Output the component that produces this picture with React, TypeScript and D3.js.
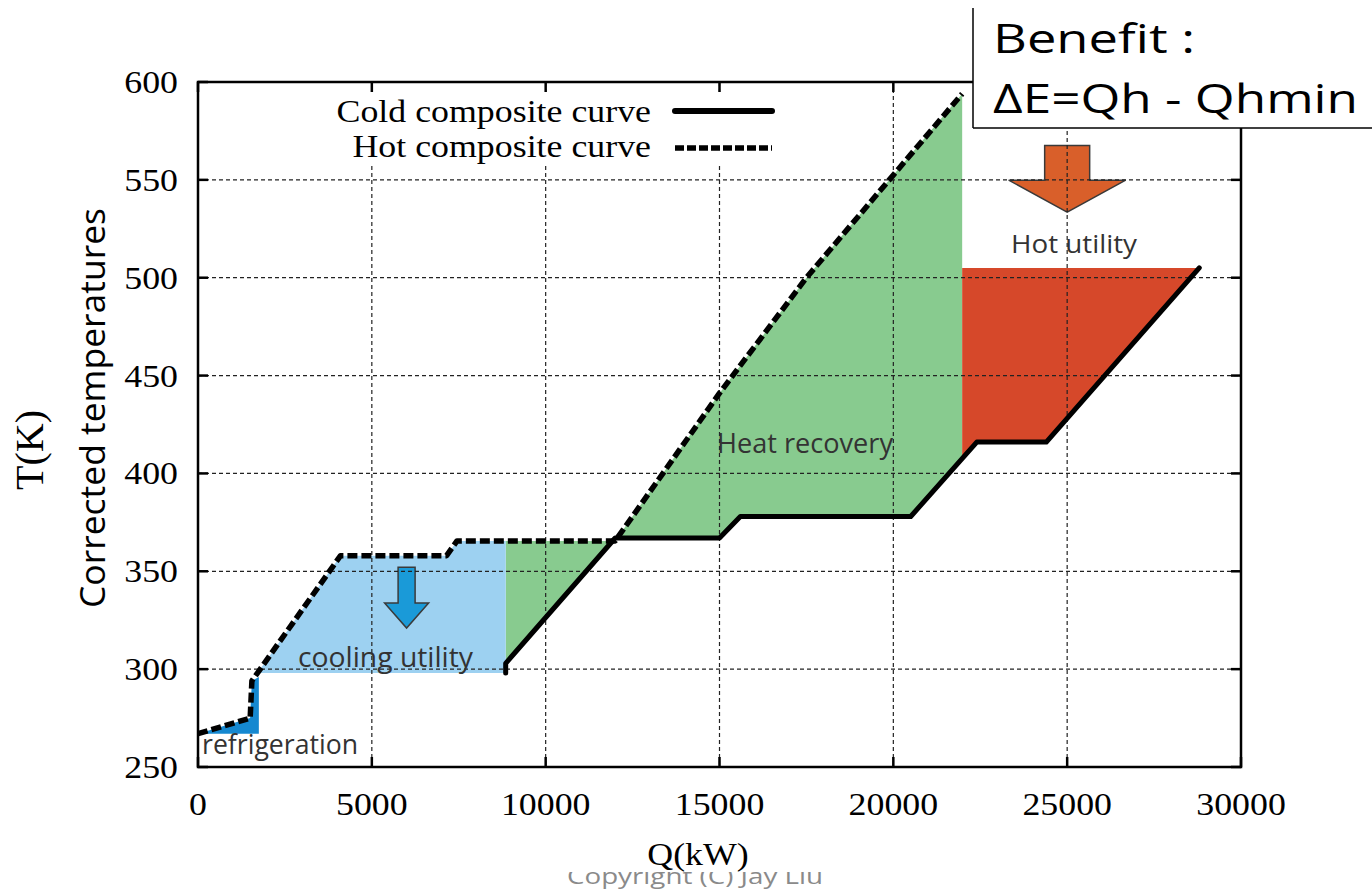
import React from "react";
import * as d3 from "d3";

// Axis ticks
const xTickValues = [0, 5000, 10000, 15000, 20000, 25000, 30000];
const yTickValues = [250, 300, 350, 400, 450, 500, 550, 600];

// Hot composite curve (Q in kW, T in K)
const hotQ = [0, 1500, 1550, 4100, 7150, 7450, 12000, 15000, 17500, 21980];
const hotT = [267, 275, 294, 358, 358, 365.5, 365.5, 441, 500, 594];

// Cold composite curve
const coldQ = [8850, 8850, 12000, 15000, 15600, 20500, 22400, 24400, 28800];
const coldT = [298, 303, 367, 367, 378, 378, 416, 416, 505];

// Shaded regions
const refrigerationQ = [0, 1500, 1550, 1750, 1750];
const refrigerationT = [267, 275, 294, 296, 267];

const coolingQ = [1710, 4100, 7150, 7450, 8850, 8850];
const coolingT = [298, 358, 358, 365.5, 365.5, 298];

const recoveryQ = [8850, 12000, 15000, 17500, 21980, 21980, 20500, 15600, 15000, 12000, 8850];
const recoveryT = [365.5, 365.5, 441, 500, 594, 407.6, 378, 378, 367, 367, 303];

const hotUtilityQ = [21980, 28800, 24400, 22400, 21980];
const hotUtilityT = [505, 505, 416, 416, 407.6];

// Utility arrows: position Q, top T, tip T
const coolArrow = { q: 6000, top: 352, tip: 321 };
const hotArrow = { q: 25000, top: 567.5, tip: 533.5 };

const W = 1372;
const H = 890;
const PL = 198, PR = 1241, PT = 82, PB = 767;

const SERIF = "'Liberation Serif', 'Times New Roman', serif";
const SANS = "'Open Sans', 'Noto Sans', sans-serif";
const SX = 1.12;

const x = d3.scaleLinear().domain([0, 30000]).range([PL, PR]);
const y = d3.scaleLinear().domain([250, 600]).range([PB, PT]);

const zip = (qs: number[], ts: number[]) => qs.map((q, i) => [q, ts[i]] as [number, number]);
const line = d3.line<[number, number]>().x((d) => x(d[0])).y((d) => y(d[1]));
const poly = (qs: number[], ts: number[]) => line(zip(qs, ts)) + "Z";

function STxt(props: {
  x: number; y: number; size: number; family: string; anchor?: string;
  fill?: string; sx?: number; rotate?: number; len?: number; children: React.ReactNode;
}) {
  const { x: tx, y: ty, size, family, anchor = "start", fill = "#000", sx = 1, rotate, len, children } = props;
  return (
    <text
      transform={`translate(${tx},${ty}) scale(${sx},1)${rotate ? ` rotate(${rotate})` : ""}`}
      fontSize={size}
      fontFamily={family}
      textAnchor={anchor}
      fill={fill}
      textLength={len}
      lengthAdjust={len ? "spacingAndGlyphs" : undefined}
    >
      {children}
    </text>
  );
}

function arrowPath(cx: number, top: number, tip: number, shaftHalf: number, headHalf: number, headLen: number) {
  const wing = tip - headLen;
  return `M${cx - shaftHalf},${top} L${cx + shaftHalf},${top} L${cx + shaftHalf},${wing} L${cx + headHalf},${wing} L${cx},${tip} L${cx - headHalf},${wing} L${cx - shaftHalf},${wing} Z`;
}

export default function App() {
  const gridX = xTickValues.slice(1, -1);
  const gridY = yTickValues.slice(1, -1);
  const tickLen = 10;

  return (
    <svg width={W} height={H} style={{ position: "absolute", left: 0, top: 0, background: "#fff" }}>
      <rect x={0} y={0} width={W} height={H} fill="#fff" />

      {/* filled regions */}
      <path d={poly(recoveryQ, recoveryT)} fill="#88cb8f" />
      <path d={poly(coolingQ, coolingT)} fill="#9dd1f1" />
      <path d={poly(refrigerationQ, refrigerationT)} fill="#1588d0" />
      <path d={poly(hotUtilityQ, hotUtilityT)} fill="#d6482a" />

      {/* arrows */}
      <path
        d={arrowPath(x(coolArrow.q), y(coolArrow.top), y(coolArrow.tip), 8.5, 22, 25)}
        fill="#1a9ad8" stroke="#3a3a3a" strokeWidth={1.5} strokeLinejoin="miter"
      />
      <path
        d={arrowPath(x(hotArrow.q), y(hotArrow.top), y(hotArrow.tip), 22.5, 58.5, 32)}
        fill="#d95f2a" stroke="#3a3a3a" strokeWidth={1.5}
      />

      {/* grid */}
      <g stroke="#222" strokeWidth={1.2} strokeDasharray="4,3">
        {gridX.map((v) => (
          <line key={"gx" + v} x1={x(v)} x2={x(v)} y1={PT} y2={PB} />
        ))}
        {gridY.map((v) => (
          <line key={"gy" + v} x1={PL} x2={PR} y1={y(v)} y2={y(v)} />
        ))}
      </g>

      {/* legend background */}
      <rect x={330} y={92} width={455} height={74} fill="#fff" />

      {/* frame and ticks */}
      <g stroke="#000" strokeWidth={2.5}>
        <rect x={PL} y={PT} width={PR - PL} height={PB - PT} fill="none" />
        {xTickValues.map((v) => (
          <g key={"tx" + v}>
            <line x1={x(v)} x2={x(v)} y1={PB} y2={PB - tickLen} />
            <line x1={x(v)} x2={x(v)} y1={PT} y2={PT + tickLen} />
          </g>
        ))}
        {yTickValues.map((v) => (
          <g key={"ty" + v}>
            <line x1={PL} x2={PL + tickLen} y1={y(v)} y2={y(v)} />
            <line x1={PR} x2={PR - tickLen} y1={y(v)} y2={y(v)} />
          </g>
        ))}
      </g>

      {/* composite curves */}
      <path d={line(zip(coldQ, coldT)) || ""} fill="none" stroke="#000" strokeWidth={5} strokeLinecap="round" strokeLinejoin="round" />
      <path d={line(zip(hotQ, hotT)) || ""} fill="none" stroke="#000" strokeWidth={5.5} strokeDasharray="10,4" strokeLinejoin="round" />

      {/* legend */}
      <STxt x={651} y={122} size={32} family={SERIF} anchor="end" sx={SX}>Cold composite curve</STxt>
      <STxt x={651} y={157} size={32} family={SERIF} anchor="end" sx={SX}>Hot composite curve</STxt>
      <line x1={675} x2={772} y1={111} y2={111} stroke="#000" strokeWidth={6} strokeLinecap="round" />
      <line x1={675} x2={772} y1={148} y2={148} stroke="#000" strokeWidth={5.5} strokeDasharray="9,3" />

      {/* region labels */}
      <STxt x={717} y={453} size={27} family={SANS} fill="#333" len={176}>Heat recovery</STxt>
      <STxt x={298} y={667} size={27} family={SANS} fill="#333" len={175}>cooling utility</STxt>
      <STxt x={202} y={754} size={27} family={SANS} fill="#333" len={156}>refrigeration</STxt>
      <STxt x={1011} y={253} size={26} family={SANS} fill="#333" len={126}>Hot utility</STxt>

      {/* tick labels */}
      {xTickValues.map((v) => (
        <STxt key={"lx" + v} x={x(v)} y={815} size={32} family={SERIF} anchor="middle" sx={SX}>{String(v)}</STxt>
      ))}
      {yTickValues.map((v) => (
        <STxt key={"ly" + v} x={178} y={y(v) + 11} size={32} family={SERIF} anchor="end" sx={SX}>{String(v)}</STxt>
      ))}

      {/* axis titles */}
      <STxt x={105} y={408} size={34} family={SANS} anchor="middle" rotate={-90} len={400}>Corrected temperatures</STxt>
      <STxt x={43} y={450} size={40} family={SERIF} anchor="middle" rotate={-90}>T(K)</STxt>

      {/* copyright line, top clipped */}
      <STxt x={695} y={884} size={22} family={SANS} anchor="middle" fill="#8a8a8a" len={256}>Copyright (C) Jay Liu</STxt>
      <rect x={555} y={850} width={280} height={22} fill="#fff" />
      <STxt x={698} y={865} size={32} family={SERIF} anchor="middle" sx={SX}>Q(kW)</STxt>

      {/* benefit box */}
      <rect x={973} y={8} width={W - 973} height={120} fill="#fff" />
      <line x1={973} x2={973} y1={8} y2={128} stroke="#000" strokeWidth={1.5} />
      <line x1={973} x2={W} y1={128} y2={128} stroke="#000" strokeWidth={1.5} />
      <STxt x={993} y={53} size={40} family={SANS} len={202}>Benefit :</STxt>
      <STxt x={993} y={113} size={40} family={SANS} len={365}>ΔE=Qh - Qhmin</STxt>
    </svg>
  );
}
